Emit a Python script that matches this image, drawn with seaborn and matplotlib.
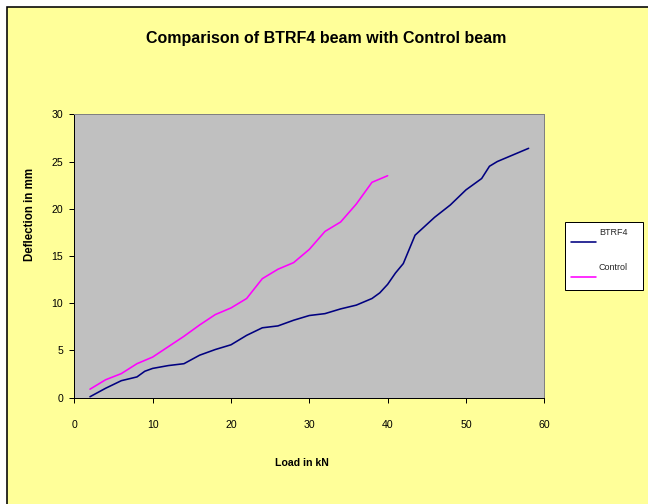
import matplotlib
matplotlib.use("Agg")
import matplotlib.pyplot as plt
import seaborn as sns
import pandas as pd
from matplotlib.patches import Rectangle
from matplotlib.transforms import Affine2D

# Load (kN) and mid-span deflection (mm)
btrf4_load = [2, 4, 6, 8, 9, 10, 12, 14, 16, 18, 20, 22, 24, 26, 28, 30, 32, 34, 36, 38,
              39, 40, 41, 42, 43.5, 46, 48, 50, 52, 53, 54, 56, 58]
btrf4_defl = [0.1, 1.0, 1.8, 2.2, 2.8, 3.1, 3.4, 3.6, 4.5, 5.1, 5.6, 6.6, 7.4, 7.6, 8.2, 8.7,
              8.9, 9.4, 9.8, 10.5, 11.1, 12.0, 13.2, 14.2, 17.2, 19.1, 20.4, 22.0, 23.2, 24.5,
              25.0, 25.7, 26.4]

control_load = [2, 4, 6, 8, 10, 12, 14, 16, 18, 20, 22, 24, 26, 28, 30, 32, 34, 36, 38, 40]
control_defl = [0.9, 1.9, 2.55, 3.6, 4.3, 5.4, 6.5, 7.7, 8.8, 9.5, 10.5, 12.6, 13.6, 14.3,
                15.7, 17.6, 18.6, 20.5, 22.8, 23.5]

series_names = ["BTRF4", "Control"]
series_colors = {"BTRF4": "#000080", "Control": "#FF00FF"}

df = pd.concat([
    pd.DataFrame({"Load": btrf4_load, "Deflection": btrf4_defl, "Beam": "BTRF4"}),
    pd.DataFrame({"Load": control_load, "Deflection": control_defl, "Beam": "Control"}),
], ignore_index=True)

sns.set_theme(style="white")
plt.rcParams["font.family"] = ["Liberation Sans", "DejaVu Sans"]

W, H = 648, 504
fig = plt.figure(figsize=(W / 72, H / 72), dpi=72, facecolor="#FFFFFF")

# chart area: pale yellow panel with a dark frame, behind everything else
fig.patches.append(Rectangle((6.5 / W, -0.02), 1.05, 1 - 6.5 / H + 0.02,
                             transform=fig.transFigure, facecolor="#FFFF99",
                             edgecolor="#000000", linewidth=1.6, zorder=-10))

ax = fig.add_axes([74.3 / W, 1 - 397.7 / H, 470 / W, 283.4 / H])
ax.set_facecolor("#C0C0C0")

sns.lineplot(data=df, x="Load", y="Deflection", hue="Beam", hue_order=series_names,
             palette=series_colors, linewidth=1.6, sort=False, estimator=None,
             ax=ax, legend=False)

ax.set_xlim(0, 60)
ax.set_ylim(0, 30)
ax.set_xticks(range(0, 61, 10))
ax.set_yticks(range(0, 31, 5))
ax.tick_params(axis="both", direction="out", length=5, width=1, color="#000000",
               labelsize=10.5, labelcolor="#000000", bottom=True, left=True)
ax.tick_params(axis="x", pad=17)
ax.tick_params(axis="y", pad=6)

for side in ("left", "bottom"):
    ax.spines[side].set_color("#000000")
    ax.spines[side].set_linewidth(1.0)
for side in ("top", "right"):
    ax.spines[side].set_color("#808080")
    ax.spines[side].set_linewidth(1.0)

ax.set_xlabel("Load in kN", fontsize=10.5, fontweight="bold", color="#000000")
ax.set_ylabel("Deflection in mm", fontsize=11.5, fontweight="bold", color="#000000")
ax.xaxis.set_label_coords((301.5 - 74.3) / 470, -(463 - 397.7) / 283.4)
ax.xaxis.label.set_va("center")
ax.yaxis.set_label_coords((30 - 74.3) / 470, (397.7 - 214) / 283.4)
ax.yaxis.label.set_va("center")

fig.text(326 / W, 1 - 38 / H, "Comparison of BTRF4 beam with Control beam", ha="center",
         va="center", fontsize=16, fontweight="bold", color="#000000")

handles = [plt.Line2D([], [], color=series_colors[n], linewidth=1.6) for n in series_names]
leg = fig.legend(handles, series_names, loc="center",
                 bbox_to_anchor=(565 / W, 1 - 292 / H, 78 / W, 72 / H), mode="expand",
                 fontsize=9, frameon=True, fancybox=False, framealpha=1.0,
                 handlelength=2.8, handleheight=3.55, labelspacing=1.25, borderpad=0.63,
                 handletextpad=0.33, borderaxespad=0)
leg.get_frame().set_facecolor("#FFFFFF")
leg.get_frame().set_edgecolor("#000000")
leg.get_frame().set_linewidth(1.0)
# line samples sit low in each row, labels above them
for ln in leg.get_lines():
    ln.set_transform(ln.get_transform() + Affine2D().translate(0, -8))
for t in leg.get_texts():
    t.set_transform(t.get_transform() + Affine2D().translate(0, 6))

fig.savefig("out.png", dpi=72, facecolor=fig.get_facecolor())
